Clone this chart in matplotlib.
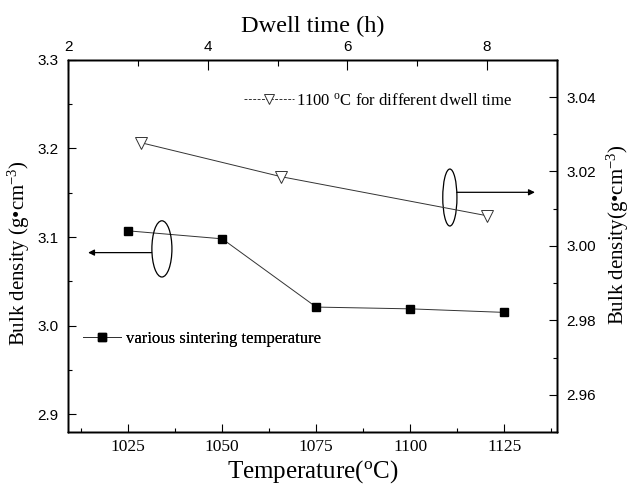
import matplotlib
matplotlib.use('Agg')
import matplotlib.pyplot as plt
from matplotlib.lines import Line2D
from matplotlib.patches import Ellipse
from matplotlib.ticker import MultipleLocator

plt.rcParams['mathtext.fontset'] = 'custom'
plt.rcParams['mathtext.rm'] = 'Liberation Serif'
plt.rcParams['mathtext.it'] = 'Liberation Serif:italic'

SERIF = 'Liberation Serif'
SANS = 'Liberation Sans'

# sintering temperature series (bottom x, left y)
temperature = [1025, 1050, 1075, 1100, 1125]
density_temp = [3.107, 3.098, 3.021, 3.019, 3.015]

# dwell time series at 1100 C (top x, right y)
dwell_time = [3.05, 5.05, 8.0]
density_dwell = [3.0277, 3.0186, 3.0081]

temp_ticks = [1025, 1050, 1075, 1100, 1125]
dwell_ticks = [2, 4, 6, 8]
left_ticks = [2.9, 3.0, 3.1, 3.2, 3.3]
right_ticks = [2.96, 2.98, 3.00, 3.02, 3.04]

fig = plt.figure(figsize=(6.3, 4.86), dpi=100)
ax = fig.add_axes([0.108, 0.111, 0.776, 0.766])
ax_r = ax.twinx()
ax_t = ax_r.twiny()

# temperature series
ax.plot(temperature, density_temp, color='#333333', lw=0.7, marker='s',
        ms=6, mfc='black', mec='black', zorder=3)
ax.set_xlim(1009, 1139)
ax.set_ylim(2.88, 3.3)
ax.set_xticks(temp_ticks)
ax.set_yticks(left_ticks)
ax.xaxis.set_minor_locator(MultipleLocator(12.5))
ax.yaxis.set_minor_locator(MultipleLocator(0.05))
ax.set_xticklabels([str(t) for t in temp_ticks], fontfamily=SERIF, fontsize=12.5)
ax.set_yticklabels(['%.1f' % v for v in left_ticks], fontfamily=SANS, fontsize=11)
ax.set_xlabel('Temperature($^{\\mathrm{o}}$C)', fontfamily=SERIF, fontsize=18, labelpad=2)
ax.set_ylabel('Bulk density (g\u2022cm$^{-3}$)', fontfamily=SERIF, fontsize=15, labelpad=4)
ax.yaxis.label.set_y(0.48)
ax.tick_params(axis='both', which='major', direction='in', length=6, width=0.8, pad=7)
ax.tick_params(axis='both', which='minor', direction='in', length=3, width=0.8)
ax.tick_params(axis='x', which='major', pad=5)

# dwell time series
ax_t.plot(dwell_time, density_dwell, color='#333333', lw=0.7, marker='v',
          ms=8, mfc='white', mec='#333333', mew=0.7, zorder=3)
ax_t.set_xlim(2, 9)
ax_r.set_ylim(2.95, 3.05)
ax_t.set_xticks(dwell_ticks)
ax_t.xaxis.set_minor_locator(MultipleLocator(1))
ax_r.set_yticks(right_ticks)
ax_r.yaxis.set_minor_locator(MultipleLocator(0.01))
ax_t.set_xticklabels([str(t) for t in dwell_ticks], fontfamily=SANS, fontsize=11)
ax_r.set_yticklabels(['%.2f' % v for v in right_ticks], fontfamily=SANS, fontsize=11)
ax_t.set_xlabel('Dwell time (h)', fontfamily=SERIF, fontsize=17.5, labelpad=6)
ax_r.set_ylabel('Bulk density(g\u2022cm$^{-3}$)', fontfamily=SERIF, fontsize=15, labelpad=6)
ax_r.yaxis.label.set_y(0.53)
ax_r.tick_params(axis='y', which='major', direction='in', length=6, width=0.8, pad=7)
ax_r.tick_params(axis='y', which='minor', direction='in', length=3, width=0.8)
ax_t.tick_params(axis='x', which='major', direction='in', length=7, width=0.8, pad=4)
ax_t.tick_params(axis='x', which='minor', direction='in', length=4, width=0.8)

for a in (ax, ax_r, ax_t):
    for s in a.spines.values():
        s.set_linewidth(1.0)

# ellipses with arrows pointing to the relevant axes
ax.add_patch(Ellipse((0.192, 0.492), 0.041, 0.151, transform=ax.transAxes,
                     fill=False, lw=0.9, ec='black', zorder=4))
ax.annotate('', xy=(0.041, 0.482), xytext=(0.171, 0.482), xycoords='axes fraction',
            arrowprops=dict(arrowstyle='-|>', color='black', lw=0.9,
                            mutation_scale=9, shrinkA=0, shrinkB=0))
ax.add_patch(Ellipse((0.781, 0.630), 0.029, 0.153, transform=ax.transAxes,
                     fill=False, lw=0.9, ec='black', zorder=4))
ax.annotate('', xy=(0.955, 0.644), xytext=(0.795, 0.644), xycoords='axes fraction',
            arrowprops=dict(arrowstyle='-|>', color='black', lw=0.9,
                            mutation_scale=9, shrinkA=0, shrinkB=0))

# legends
h_temp = Line2D([], [], color='#333333', lw=0.7, marker='s', ms=5.5, mfc='black', mec='black')
h_dwell = Line2D([], [], color='#333333', lw=0.7, ls=(0, (3, 1.5)), marker='v', ms=7,
                 mfc='white', mec='#333333', mew=0.7)
leg1 = ax.legend([h_temp], ['various sintering temperature'], loc='center left',
                 bbox_to_anchor=(0.03, 0.25), frameon=False, borderpad=0,
                 borderaxespad=0, handlelength=2.3, handletextpad=0.3,
                 prop={'family': SERIF, 'size': 12})
ax.add_artist(leg1)
ax_t.legend([h_dwell], ['1100 $^{\\mathrm{o}}$C for different dwell time'], loc='center left',
            bbox_to_anchor=(0.36, 0.89), frameon=False, borderpad=0,
            borderaxespad=0, handlelength=3.0, handletextpad=0.1,
            prop={'family': SERIF, 'size': 12})

fig.savefig('out.png', dpi=100)
